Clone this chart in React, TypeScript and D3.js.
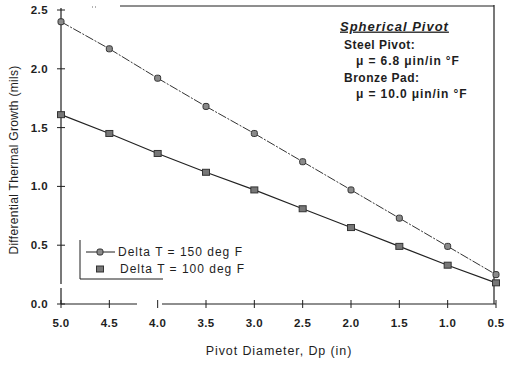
import React from 'react';
import * as d3 from 'd3';

// Pivot diameter (in)
const diameters = [5.0, 4.5, 4.0, 3.5, 3.0, 2.5, 2.0, 1.5, 1.0, 0.5];
// Differential thermal growth (mils)
const growth150 = [2.40, 2.17, 1.92, 1.68, 1.45, 1.21, 0.97, 0.73, 0.49, 0.25];
const growth100 = [1.61, 1.45, 1.28, 1.12, 0.97, 0.81, 0.65, 0.49, 0.33, 0.18];
const xTicks = [5.0, 4.5, 4.0, 3.5, 3.0, 2.5, 2.0, 1.5, 1.0, 0.5];
const yTicks = [0, 0.5, 1.0, 1.5, 2.0, 2.5];
const legendLabels = ['Delta T = 150 deg F', 'Delta T = 100 deg F'];
const noteLines = ['Steel Pivot:', '\u03bc = 6.8   \u03bcin/in \u00b0F', 'Bronze Pad:', '\u03bc = 10.0 \u03bcin/in \u00b0F'];

const font = "'Liberation Sans', Arial, sans-serif";
const ink = '#1e1e1e';

export default function App() {
  const width = 505;
  const height = 365;
  const left = 61, right = 496, top = 10, bottom = 304;

  const x = d3.scaleLinear().domain([5.0, 0.5]).range([left, right]);
  const y = d3.scaleLinear().domain([0, 2.5]).range([bottom, top]);

  const line = d3.line<number>()
    .x((d, i) => x(diameters[i]))
    .y(d => y(d));

  return (
    <svg width={width} height={height} style={{ position: 'absolute', left: 0, top: 0, background: '#fff' }}>
      {/* frame: top and right edges */}
      <line x1={92} x2={97} y1={7} y2={7} stroke="#666" strokeWidth={1} strokeDasharray="1,2" />
      <line x1={120} x2={x(0.5) - 2} y1={6} y2={6} stroke={ink} strokeWidth={1} />
      <line x1={x(0.5) - 2} x2={x(0.5) - 2} y1={5} y2={bottom} stroke={ink} strokeWidth={1.2} />

      {/* y axis */}
      <line x1={left} x2={left} y1={top - 2} y2={284} stroke={ink} strokeWidth={1.2} />
      <line x1={left} x2={left} y1={288} y2={bottom} stroke={ink} strokeWidth={1.2} />
      {yTicks.map(t => (
        <g key={'y' + t}>
          <line x1={left - 4} x2={left + 4} y1={y(t)} y2={y(t)} stroke={ink} strokeWidth={1} />
          <text x={left - 13} y={y(t)} dy="0.35em" textAnchor="end" fontFamily={font} fontWeight="bold"
            fontSize={11.5} letterSpacing={0.4} fill={ink}>
            {t.toFixed(1)}
          </text>
        </g>
      ))}

      {/* x axis (broken in the scan) */}
      <line x1={left} x2={137} y1={bottom} y2={bottom} stroke={ink} strokeWidth={1.2} />
      <line x1={162} x2={right} y1={bottom} y2={bottom} stroke={ink} strokeWidth={1.2} />
      {xTicks.map(t => (
        <g key={'x' + t}>
          <line x1={x(t)} x2={x(t)} y1={bottom - 4} y2={bottom + 4} stroke={ink} strokeWidth={1} />
          <text x={x(t)} y={323} dy="0.35em" textAnchor="middle" fontFamily={font} fontWeight="bold"
            fontSize={11.5} letterSpacing={0.4} fill={ink}>
            {t.toFixed(1)}
          </text>
        </g>
      ))}

      {/* axis titles */}
      <text x={279} y={351} dy="0.35em" textAnchor="middle" fontFamily={font} fontSize={12.5} letterSpacing={0.9} fill={ink}>
        Pivot Diameter, Dp (in)
      </text>
      <text transform={`translate(14,160) rotate(-90)`} textAnchor="middle" dy="0.35em" fontFamily={font}
        fontSize={12} letterSpacing={0.3} fill={ink}>
        Differential Thermal Growth (mils)
      </text>

      {/* series */}
      <path d={line(growth150) || ''} fill="none" stroke="#333" strokeWidth={1} strokeDasharray="9,1.5,2,1.5" />
      <path d={line(growth100) || ''} fill="none" stroke="#222" strokeWidth={1.2} />
      {growth150.map((v, i) => (
        <rect key={'a' + i} x={x(diameters[i]) - 3} y={y(v) - 3} width={6} height={6} rx={2}
          fill="#8a8a8a" stroke="#333" strokeWidth={1} />
      ))}
      {growth100.map((v, i) => (
        <rect key={'b' + i} x={x(diameters[i]) - 3.5} y={y(v) - 3} width={7} height={6}
          fill="#777" stroke="#333" strokeWidth={1} />
      ))}

      {/* legend */}
      <line x1={80} x2={80} y1={240} y2={279} stroke={ink} strokeWidth={1} />
      <line x1={80} x2={163} y1={279} y2={279} stroke={ink} strokeWidth={1} />
      <line x1={86} x2={115} y1={252} y2={252} stroke={ink} strokeWidth={1} />
      <rect x={97} y={249} width={6} height={6} rx={2} fill="#8a8a8a" stroke="#333" />
      <text x={118} y={252} dy="0.35em" fontFamily={font} fontSize={12} letterSpacing={1} fill={ink}>{legendLabels[0]}</text>
      <rect x={96.5} y={266} width={7} height={6} fill="#777" stroke="#333" />
      <text x={120} y={269} dy="0.35em" fontFamily={font} fontSize={12} letterSpacing={1} fill={ink}>{legendLabels[1]}</text>

      {/* annotation */}
      <text x={340} y={26} dy="0.35em" fontFamily={font} fontSize={13} fontWeight="bold" fontStyle="italic"
        letterSpacing={1} textDecoration="underline" fill={ink}>Spherical Pivot</text>
      {noteLines.map((s, i) => (
        <text key={s} x={i % 2 === 0 ? 344 : 356} y={45 + i * 16.2} dy="0.35em" fontFamily={font}
          fontSize={12} fontWeight="bold" letterSpacing={i % 2 === 0 ? 0.5 : 0.9} fill={ink}>{s}</text>
      ))}
    </svg>
  );
}
